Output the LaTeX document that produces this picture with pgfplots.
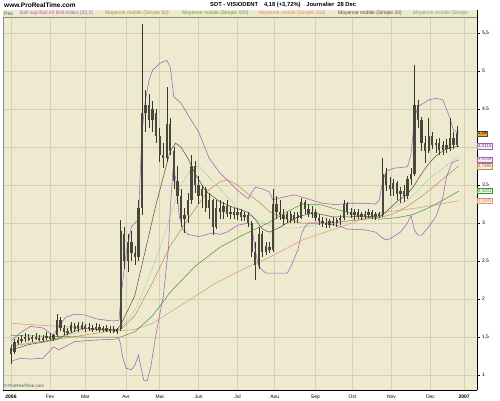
\documentclass[border=0pt]{standalone}
\usepackage{fontspec}
\setmainfont{Liberation Sans}
\usepackage{pgfplots}
\usepackage{pgfplotstable}
\pgfplotsset{compat=1.18}
\definecolor{bgc}{RGB}{238,234,208}
\definecolor{gridc}{RGB}{214,208,176}
\definecolor{candle}{RGB}{72,72,58}
\definecolor{wick}{RGB}{55,55,45}
\definecolor{boll}{RGB}{165,95,185}
\definecolor{maA}{RGB}{95,75,45}
\definecolor{maB}{RGB}{195,135,65}
\definecolor{maC}{RGB}{70,145,60}
\definecolor{maD}{RGB}{228,145,118}
\definecolor{maE}{RGB}{90,170,150}
\definecolor{lgBoll}{RGB}{190,90,170}
\definecolor{lgB}{RGB}{165,145,60}
\definecolor{lgC}{RGB}{90,165,60}
\definecolor{lgD}{RGB}{228,140,100}
\definecolor{lgA}{RGB}{80,80,40}
\definecolor{lgE}{RGB}{100,180,120}

\pgfplotstableread{
d o h l c
0 1.35 1.40 1.15 1.28
2 1.30 1.47 1.28 1.44
4 1.42 1.50 1.40 1.46
6 1.45 1.52 1.42 1.48
8 1.47 1.55 1.44 1.50
10 1.49 1.54 1.45 1.47
12 1.47 1.53 1.44 1.50
14 1.50 1.55 1.46 1.48
16 1.48 1.53 1.45 1.47
18 1.47 1.52 1.43 1.49
20 1.49 1.56 1.46 1.51
22 1.50 1.55 1.46 1.48
24 1.48 1.54 1.45 1.52
26 1.52 1.80 1.50 1.72
28 1.72 1.76 1.58 1.62
30 1.62 1.66 1.52 1.56
32 1.56 1.62 1.53 1.58
34 1.58 1.70 1.55 1.66
36 1.65 1.68 1.57 1.60
38 1.60 1.70 1.57 1.66
40 1.66 1.70 1.59 1.61
42 1.61 1.67 1.57 1.64
44 1.63 1.69 1.58 1.60
46 1.60 1.66 1.56 1.62
48 1.62 1.68 1.58 1.63
50 1.63 1.67 1.57 1.59
52 1.59 1.65 1.56 1.62
54 1.62 1.66 1.57 1.58
56 1.58 1.64 1.55 1.61
58 1.61 1.64 1.55 1.57
60 1.57 1.62 1.54 1.60
62 1.60 3.04 1.58 2.90
64 2.85 2.95 2.40 2.50
66 2.50 2.85 2.35 2.75
68 2.75 2.90 2.50 2.60
70 2.60 2.70 2.45 2.55
72 2.55 3.30 2.50 3.20
74 3.20 5.62 3.10 4.45
76 4.45 4.75 4.20 4.55
78 4.55 4.70 4.25 4.35
80 4.35 4.60 4.20 4.50
82 4.45 4.50 4.05 4.15
84 4.15 4.25 3.80 3.90
86 3.90 4.05 3.72 3.85
88 3.85 4.79 3.80 4.30
90 4.30 4.38 3.90 3.95
92 3.95 4.00 3.45 3.55
94 3.55 3.75 3.25 3.35
96 3.35 3.45 2.95 3.05
98 3.05 3.20 2.87 3.10
100 3.10 3.40 3.00 3.30
102 3.30 3.89 3.25 3.75
104 3.75 3.82 3.40 3.50
106 3.50 3.62 3.25 3.35
108 3.35 3.50 3.20 3.45
110 3.45 3.48 3.15 3.20
112 3.20 3.40 3.05 3.30
114 3.30 3.32 2.84 2.95
116 2.95 3.30 2.92 3.20
118 3.20 3.30 3.05 3.15
120 3.15 3.28 3.05 3.22
122 3.22 3.30 3.08 3.12
124 3.12 3.22 3.05 3.15
126 3.15 3.20 3.05 3.10
128 3.10 3.20 3.04 3.15
130 3.15 3.18 3.03 3.08
132 3.08 3.15 3.02 3.10
134 3.10 3.14 2.95 3.00
136 3.00 3.02 2.55 2.62
138 2.62 2.75 2.25 2.45
140 2.45 2.95 2.40 2.85
142 2.85 2.90 2.55 2.62
144 2.62 2.75 2.58 2.70
146 2.68 2.75 2.60 2.65
148 2.65 3.45 2.62 3.25
150 3.25 3.35 3.05 3.15
152 3.15 3.30 3.04 3.10
154 3.10 3.18 2.98 3.05
156 3.05 3.15 3.00 3.12
158 3.12 3.16 3.00 3.04
160 3.04 3.14 3.00 3.10
162 3.10 3.15 3.00 3.06
164 3.06 3.33 3.05 3.28
166 3.28 3.30 3.12 3.18
168 3.18 3.25 3.08 3.12
170 3.12 3.22 3.06 3.15
172 3.15 3.18 3.02 3.06
174 3.06 3.12 2.97 3.02
176 3.02 3.08 2.95 3.00
178 3.00 3.06 2.94 2.98
180 2.98 3.05 2.94 3.02
182 3.02 3.08 2.96 3.00
184 3.00 3.06 2.95 3.04
186 3.04 3.10 2.98 3.06
188 3.06 3.30 3.04 3.25
190 3.25 3.28 3.10 3.15
192 3.15 3.20 3.06 3.10
194 3.10 3.18 3.04 3.14
196 3.14 3.18 3.05 3.08
198 3.08 3.15 3.04 3.12
200 3.12 3.16 3.05 3.10
202 3.10 3.18 3.06 3.14
204 3.14 3.17 3.05 3.08
206 3.08 3.14 3.04 3.12
208 3.12 3.15 3.06 3.10
210 3.10 3.86 3.08 3.65
212 3.65 3.72 3.42 3.50
214 3.50 3.60 3.35 3.45
216 3.45 3.58 3.35 3.52
218 3.52 3.55 3.30 3.38
220 3.38 3.48 3.26 3.42
222 3.42 3.50 3.28 3.35
224 3.35 3.62 3.32 3.58
226 3.58 3.72 3.50 3.65
228 3.65 5.08 3.62 4.55
230 4.55 4.62 4.25 4.35
232 4.35 4.40 3.95 4.05
234 4.05 4.15 3.79 3.95
236 3.95 4.38 3.92 4.15
238 4.15 4.20 3.98 4.02
240 4.02 4.10 3.92 4.05
242 4.05 4.12 3.90 3.96
244 3.96 4.08 3.90 4.02
246 4.02 4.10 3.92 3.98
248 3.98 4.38 3.95 4.12
250 4.12 4.20 3.98 4.03
252 4.03 4.27 4.00 4.18
}\ohlc

\pgfplotstableread{
d v
0 1.45
5 1.55
11 1.64
18 1.62
24 1.52
27 1.65
31 1.76
36 1.80
42 1.79
48 1.74
54 1.72
58 1.71
61 1.72
62 2.00
65 2.60
68 2.95
72 3.05
74 4.20
76 4.62
78 4.88
80 5.01
84 5.10
88 5.14
90 5.05
92 4.66
96 4.58
100 4.42
106 4.20
112 3.85
118 3.66
122 3.57
128 3.43
134 3.32
136 3.40
138 3.47
142 3.45
146 3.41
148 3.30
150 3.32
160 3.37
166 3.33
170 3.30
176 3.26
184 3.24
190 3.26
200 3.26
206 3.25
208 3.30
210 3.55
212 3.68
216 3.72
224 3.74
226 3.90
228 4.39
230 4.53
236 4.62
240 4.64
244 4.62
246 4.50
248 4.38
250 4.22
253 4.19
}\bollup

\pgfplotstableread{
d v
0 1.18
5 1.22
11 1.21
18 1.22
24 1.37
27 1.33
31 1.38
36 1.44
48 1.46
58 1.47
61 1.48
62 1.40
63 1.24
65 1.09
68 1.07
70 1.13
72 1.26
73 1.15
75 0.93
77 0.93
79 1.11
82 1.55
86 2.03
89 2.68
90 3.20
91.5 3.70
93 3.60
95 3.10
97 2.92
100 2.85
106 2.82
114 2.87
118 2.85
122 2.88
128 2.97
134 3.00
136 2.97
138 2.64
140 2.42
144 2.34
156 2.34
158 2.42
162 2.64
164 2.85
166 2.95
168 3.00
176 3.00
184 2.97
190 2.92
200 2.91
206 2.88
210 2.80
212 2.78
214 2.79
220 2.88
224 3.00
226 3.10
228 2.90
230 2.84
232 2.84
236 2.95
240 3.08
244 3.34
246 3.60
249 3.79
253 3.83
}\bolllow

\pgfplotstableread{
d v
0 1.33
10 1.40
20 1.44
26 1.47
30 1.52
40 1.61
50 1.60
60 1.60
62 1.66
66 1.85
70 2.05
74 2.45
78 2.85
82 3.25
86 3.60
90 3.95
93 4.05
96 4.00
100 3.85
104 3.65
110 3.42
118 3.28
124 3.22
134 3.14
138 3.05
142 2.92
146 2.88
150 2.92
156 3.00
162 3.08
168 3.12
174 3.12
182 3.08
190 3.08
200 3.09
208 3.08
212 3.15
218 3.28
224 3.38
228 3.50
232 3.65
236 3.78
240 3.88
244 3.95
248 3.99
253 4.01
}\mavingt

\pgfplotstableread{
d v
0 1.40
20 1.45
40 1.57
60 1.60
62 1.62
70 1.85
80 2.40
86 2.80
90 3.10
96 3.50
102 3.72
106 3.75
110 3.65
118 3.45
128 3.20
138 3.05
148 2.95
160 2.93
166 2.95
178 3.00
190 3.03
200 3.05
208 3.06
216 3.20
224 3.30
230 3.43
236 3.58
244 3.72
253 3.88
}\matrente

\pgfplotstableread{
d v
0 1.38
20 1.45
40 1.52
62 1.60
70 1.78
80 2.22
90 2.70
100 3.05
106 3.25
112 3.44
118 3.54
122 3.57
128 3.50
134 3.38
140 3.28
146 3.15
154 3.06
164 3.00
180 3.00
200 3.05
210 3.08
216 3.12
224 3.22
232 3.35
240 3.50
246 3.62
253 3.75
}\macinquante

\pgfplotstableread{
d v
0 1.52
20 1.51
40 1.50
62 1.50
70 1.57
80 1.78
90 2.09
104 2.43
118 2.68
130 2.83
146 3.01
156 3.15
165 3.25
175 3.24
184 3.18
196 3.10
208 3.05
218 3.07
227 3.11
236 3.20
244 3.30
253 3.42
}\macent

\pgfplotstableread{
d v
0 1.68
20 1.65
40 1.62
62 1.58
70 1.60
80 1.68
90 1.83
101 1.99
115 2.20
130 2.38
146 2.55
165 2.78
184 2.93
208 3.13
230 3.20
253 3.29
}\macentcinquante

\begin{document}
\begin{tikzpicture}[x=1pt,y=1pt]
\useasboundingbox (0,0) rectangle (500,400);
\fill[white] (0,0) rectangle (500,400);
\begin{axis}[
  at={(3pt,10pt)}, anchor=south west,
  scale only axis, width=474pt, height=380pt,
  xmin=-4.52, xmax=263.28, ymin=0.8026, ymax=5.8026,
  axis background/.style={fill=bgc},
  axis x line*=bottom, axis y line*=right,
  axis line style={black, line width=0.9pt},
  xtick={0,22,42,65,84,106,128,149,172,193,215,237,256},
  xticklabels={\textbf{2006},Fev,Mar,Avr,Mai,Jun,Jul,Aou,Sep,Oct,Nov,Dec,\textbf{2007}},
  ytick={1,1.5,2,2.5,3,3.5,4,4.5,5,5.5},
  yticklabels={1,{1,5},2,{2,5},3,{3,5},{},{4,5},5,{5,5}},
  tick label style={font=\fontsize{5}{6}\selectfont},
  xtick style={draw=none},
  ytick style={black, line width=0.4pt},
  tick align=outside, major tick length=2.5pt,
  xticklabel style={yshift=1pt},
  yticklabel style={xshift=-1pt},
  grid=major, major grid style={gridc, line width=0.6pt},
  clip mode=individual,
]
% moving averages and bands
\addplot[maD, line width=0.5pt, mark=none] table[x=d,y=v] {\macentcinquante};
\addplot[maC, line width=0.5pt, mark=none] table[x=d,y=v] {\macent};
\addplot[maB, line width=0.5pt, mark=none] table[x=d,y=v] {\macinquante};
\addplot[maE, line width=0.5pt, densely dotted, mark=none] table[x=d,y=v] {\matrente};
\addplot[maA, line width=0.5pt, mark=none] table[x=d,y=v] {\mavingt};
\addplot[boll, line width=0.55pt, mark=none] table[x=d,y=v] {\bollup};
\addplot[boll, line width=0.55pt, mark=none] table[x=d,y=v] {\bolllow};
% candles: wicks
\addplot[draw=none, mark=none, forget plot,
  error bars/.cd, y dir=both, y explicit, error mark=none,
  error bar style={wick, line width=0.5pt}]
  table[x=d, y expr={(\thisrow{h}+\thisrow{l})/2}, y error expr={(\thisrow{h}-\thisrow{l})/2}] {\ohlc};
% candles: bodies
\addplot[draw=none, mark=none, forget plot,
  error bars/.cd, y dir=both, y explicit, error mark=none,
  error bar style={candle, line width=2.3pt}]
  table[x=d, y expr={(\thisrow{o}+\thisrow{c})/2}, y error expr={max(abs(\thisrow{o}-\thisrow{c})/2,0.012)}] {\ohlc};
% value boxes on the right
\def\bx{263.28}
\node[anchor=west, fill={rgb,255:red,240;green,170;blue,40}, draw=black!70, line width=0.3pt, inner sep=0.7pt, font=\fontsize{4.5}{5}\selectfont] at (axis cs:\bx,4.18) {4,18};
\node[anchor=west, fill={rgb,255:red,246;green,236;blue,246}, draw=boll, line width=0.3pt, inner sep=0.7pt, text=boll!70!black, font=\fontsize{4.5}{5}\selectfont] at (axis cs:\bx,4.0115) {4,0115};
\node[anchor=west, fill={rgb,255:red,246;green,236;blue,246}, draw=boll, line width=0.3pt, inner sep=0.7pt, text=boll, font=\fontsize{4.5}{5}\selectfont] at (axis cs:\bx,3.8346) {3,8346};
\node[anchor=west, fill={rgb,255:red,248;green,240;blue,225}, draw=maB, line width=0.3pt, inner sep=0.7pt, text=maB!80!black, font=\fontsize{4.5}{5}\selectfont] at (axis cs:\bx,3.7484) {3,7484};
\node[anchor=west, fill={rgb,255:red,235;green,246;blue,232}, draw=maC, line width=0.3pt, inner sep=0.7pt, text=maC, font=\fontsize{4.5}{5}\selectfont] at (axis cs:\bx,3.4201) {3,4201};
\node[anchor=west, fill={rgb,255:red,250;green,238;blue,232}, draw=maD, line width=0.3pt, inner sep=0.7pt, text=maD, font=\fontsize{4.5}{5}\selectfont] at (axis cs:\bx,3.2885) {3,2885};
\end{axis}
% left and top borders
\draw[black!45, line width=0.5pt] (3,10) -- (3,390) -- (477,390);
% legend strip
\fill[bgc] (3,383) rectangle (477,390);
\draw[black!45, line width=0.4pt] (3,383) -- (477,383);
\begin{scope}[every node/.style={anchor=west, inner sep=0pt, font=\fontsize{5}{5}\selectfont}]
\node[text=black!75] at (4,386.5) {Prix};
\node[text=lgBoll] at (20,386.5) {Boll sup Boll inf Boll milieu (20,2)};
\node[text=lgB] at (105,386.5) {Moyenne mobile (Simple 50)};
\node[text=lgC] at (182,386.5) {Moyenne mobile (Simple 100)};
\node[text=lgD] at (259,386.5) {Moyenne mobile (Simple 150)};
\node[text=lgA] at (338,386.5) {Moyenne mobile (Simple 20)};
\node[text=lgE] at (413,386.5) {Moyenne mobile (Simple};
\end{scope}
% titles
\node[anchor=west, inner sep=0pt, font=\fontsize{6.5}{7}\bfseries] at (4,395) {www.ProRealTime.com};
\node[anchor=west, inner sep=0pt, font=\fontsize{5.8}{6}\bfseries] at (210,395) {SDT - VISIODENT\quad 4,18 (+3,72\%)\quad Journalier\enspace 28 Dec};
\node[anchor=west, inner sep=0pt, text=black!65, font=\fontsize{4.5}{5}\selectfont] at (4,14.5) {\textcopyright\,ProRealTime.com};
\end{tikzpicture}
\end{document}
